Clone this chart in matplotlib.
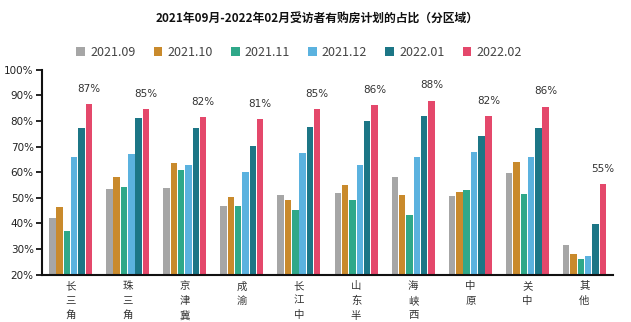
import matplotlib
matplotlib.use("Agg")
import matplotlib.pyplot as plt
import numpy as np
from matplotlib.patches import Patch

plt.rcParams['font.family'] = ['Noto Sans CJK SC', 'DejaVu Sans']

title = "2021年09月-2022年02月受访者有购房计划的占比（分区域）"
regions = ["长三角", "珠三角", "京津冀", "成渝", "长江中游", "山东半岛", "海峡西岸", "中原", "关中", "其他"]
series_names = ["2021.09", "2021.10", "2021.11", "2021.12", "2022.01", "2022.02"]
s_2021_09 = [42.1, 53.5, 53.8, 46.8, 51.2, 51.7, 58.1, 50.5, 59.6, 31.4]
s_2021_10 = [46.5, 58.1, 63.6, 50.3, 49.0, 55.0, 51.1, 52.1, 64.1, 28.1]
s_2021_11 = [37.0, 54.0, 60.8, 46.9, 45.2, 49.0, 43.4, 53.1, 51.6, 25.9]
s_2021_12 = [65.9, 67.1, 62.8, 60.0, 67.3, 62.8, 65.9, 67.7, 65.9, 27.1]
s_2022_01 = [77.2, 81.0, 77.2, 70.2, 77.6, 79.8, 82.0, 74.1, 77.1, 39.7]
s_2022_02 = [86.5, 84.6, 81.5, 80.7, 84.6, 86.1, 87.9, 81.9, 85.6, 55.4]
labels_02 = ["87%", "85%", "82%", "81%", "85%", "86%", "88%", "82%", "86%", "55%"]
yticks = [20, 30, 40, 50, 60, 70, 80, 90, 100]

series = [s_2021_09, s_2021_10, s_2021_11, s_2021_12, s_2022_01, s_2022_02]
colors = ["#A6A6A6", "#C98A2C", "#2FA889", "#5BB2DF", "#1C7686", "#E4486B"]

fig = plt.figure(figsize=(6.31, 3.22), dpi=100)
ax = fig.add_axes([0.0666, 0.1475, 0.905, 0.636])

x = np.arange(len(regions))
pitch = 0.128
width = 0.113
for i, (vals, c) in enumerate(zip(series, colors)):
    xs = x + (i - 2.5) * pitch
    ax.bar(xs, np.array(vals) - 20, bottom=20, width=width, color=c, zorder=2)
    if i == 5:
        for xx, v, lab in zip(xs, vals, labels_02):
            ax.text(xx, v + 4.0, lab, ha='center', va='bottom', fontsize=7.5,
                    color='#333333', family=['DejaVu Sans'])

ax.set_xlim(-0.5, len(regions) - 0.5)
ax.set_ylim(20, 100)
ax.set_yticks(yticks)
ax.set_yticklabels([f"{t}%" for t in yticks], fontsize=7.5, color='#222222', family=['DejaVu Sans'])
ax.set_xticks(x)
ax.set_xticklabels(["\n".join(r) for r in regions], fontsize=7.5, color='#333333',
                   linespacing=1.55, va='top')
ax.tick_params(axis='x', length=0, pad=5)
ax.tick_params(axis='y', length=4, width=1.2, direction='out', pad=2)
for s in ['top', 'right']:
    ax.spines[s].set_visible(False)
ax.spines['left'].set_linewidth(1.5)
ax.spines['bottom'].set_linewidth(1.5)
ax.spines['left'].set_color('#111111')
ax.spines['bottom'].set_color('#111111')

fig.text(0.502, 0.94, title, ha='center', va='center', fontsize=8.5, fontweight='bold', color='#111111')

handles = [Patch(facecolor=c, edgecolor='none') for c in colors]
leg = fig.legend(handles, series_names, loc='center', bbox_to_anchor=(0.474, 0.838), ncol=6,
                 frameon=False, fontsize=9, handlelength=0.7, handleheight=0.7,
                 handletextpad=0.4, columnspacing=1.45, labelcolor='#444444')

fig.savefig("out.png", dpi=100)
